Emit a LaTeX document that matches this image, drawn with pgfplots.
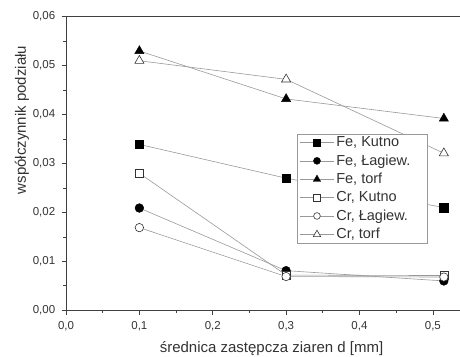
\documentclass[border=0pt]{standalone}
\usepackage{pgfplots}
\pgfplotsset{compat=1.18}
\usepackage{fontspec}
\setmainfont{Liberation Sans}
\definecolor{axc}{gray}{0.25}
\definecolor{lnc}{gray}{0.6}
\definecolor{txc}{gray}{0.2}
\begin{document}
\begin{tikzpicture}[x=1pt,y=1pt]
\path[use as bounding box] (0,0) rectangle (460,356);
\begin{axis}[
  at={(66pt,45.7pt)}, anchor=south west,
  scale only axis, width=396.2pt, height=293.6pt,
  xmin=0, xmax=0.54, ymin=0, ymax=0.06,
  xtick={0,0.1,0.2,0.3,0.4,0.5},
  minor xtick={0.05,0.15,0.25,0.35,0.45},
  ytick={0,0.01,0.02,0.03,0.04,0.05,0.06},
  minor ytick={0.005,0.015,0.025,0.035,0.045,0.055},
  tick pos=left, tick align=outside,
  major tick length=4.3pt, minor tick length=2.7pt,
  every tick/.style={axc, line width=0.7pt},
  axis line style={axc, line width=0.9pt},
  scaled ticks=false,
  /pgf/number format/assume math mode=true,
  xticklabel style={/pgf/number format/.cd, fixed, fixed zerofill, precision=1, use comma, /tikz/.cd, yshift=-3pt},
  yticklabel style={/pgf/number format/.cd, fixed, fixed zerofill, precision=2, use comma, /tikz/.cd, xshift=-3pt},
  ticklabel style={font=\fontsize{11.5}{14}\selectfont, text=txc},
  xlabel={średnica zastępcza ziaren d [mm]},
  ylabel={współczynnik podziału},
  label style={font=\fontsize{15}{17}\selectfont, text=txc},
  xlabel style={at={(axis description cs:0.5187,-0.1454)}, anchor=base},
  ylabel style={at={(axis description cs:-0.111,0.648)}, anchor=center, rotate=0},
  legend style={at={(rel axis cs:0.584,0.602)}, anchor=north west,
    draw=lnc, line width=0.6pt, text=txc,
    inner xsep=2pt, inner ysep=1pt, row sep=2.5pt,
    nodes={font=\fontsize{14.5}{16}\selectfont}},
  legend cell align=left,
  legend image code/.code={\draw[mark repeat=2,mark phase=2,#1, every mark/.append style={scale=0.8}] plot coordinates {(0pt,0pt)(17pt,0pt)(34pt,0pt)};},
  every axis plot/.append style={lnc, line width=0.6pt},
]
\addplot[mark=square*, mark options={fill=black, draw=black, line width=0.4pt}, mark size=4.2pt]
  coordinates {(0.1,0.0339) (0.3,0.0270) (0.515,0.0210)};
\addlegendentry{Fe, Kutno}
\addplot[mark=*, mark options={fill=black, draw=black, line width=0.4pt}, mark size=4.4pt]
  coordinates {(0.1,0.0209) (0.3,0.0081) (0.515,0.0060)};
\addlegendentry{Fe, Łagiew.\hspace*{13pt}}
\addplot[mark=triangle*, mark options={fill=black, draw=black, line width=0.4pt}, mark size=5.3pt]
  coordinates {(0.1,0.0530) (0.3,0.0432) (0.515,0.0392)};
\addlegendentry{Fe, torf}
\addplot[mark=square*, mark options={fill=white, draw=black!80, line width=0.6pt}, mark size=4.0pt]
  coordinates {(0.1,0.0280) (0.3,0.0072) (0.515,0.0071)};
\addlegendentry{Cr, Kutno}
\addplot[mark=*, mark options={fill=white, draw=black!80, line width=0.6pt}, mark size=4.2pt]
  coordinates {(0.1,0.0169) (0.3,0.0069) (0.515,0.0068)};
\addlegendentry{Cr, Łagiew.}
\addplot[mark=triangle*, mark options={fill=white, draw=black!80, line width=0.6pt}, mark size=5.3pt]
  coordinates {(0.1,0.0510) (0.3,0.0472) (0.515,0.0321)};
\addlegendentry{Cr, torf}
\end{axis}
\end{tikzpicture}
\end{document}
